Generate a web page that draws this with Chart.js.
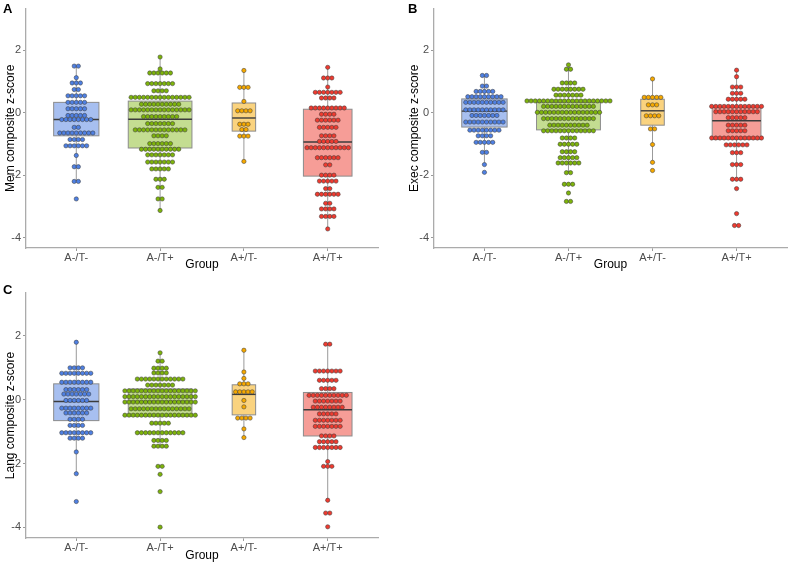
<!DOCTYPE html>
<html><head><meta charset="utf-8">
<script src="https://cdn.jsdelivr.net/npm/chart.js@4.4.1/dist/chart.umd.min.js"></script>
<style>
html,body{margin:0;padding:0;background:#fff;}
body{width:790px;height:565px;position:relative;overflow:hidden;font-family:"Liberation Sans",Arial,sans-serif;}
.pw{position:absolute;}
.pw canvas{display:block;}
.lbl{position:absolute;font:bold 13px "Liberation Sans",Arial,sans-serif;color:#000;line-height:13px;}
</style></head><body>
<div class="pw" style="left:0;top:0"><canvas id="cA" width="395" height="280"></canvas></div>
<div class="pw" style="left:404px;top:0"><canvas id="cB" width="386" height="280"></canvas></div>
<div class="pw" style="left:0;top:280px"><canvas id="cC" width="395" height="285"></canvas></div>
<div class="lbl" style="left:3px;top:2px">A</div>
<div class="lbl" style="left:408px;top:2px">B</div>
<div class="lbl" style="left:3px;top:283px">C</div>
<script>
// ---------------- DATA ----------------
const groups = ["A-/T-", "A-/T+", "A+/T-", "A+/T+"];
const yTicks = [-4, -2, 0, 2];

// Panel A: Mem composite z-score. Dot rows: bin centre values and dot counts per group
const memY = [
  [1.49, 1.12, 0.95, 0.74, 0.54, 0.33, 0.125, -0.09, -0.22, -0.47, -0.65, -0.86, -1.06, -1.37, -1.73, -2.2, -2.76],
  [1.78, 1.40, 1.27, 0.93, 0.70, 0.49, 0.27, 0.09, -0.125, -0.35, -0.55, -0.74, -0.99, -1.17, -1.35, -1.58, -1.80, -2.13, -2.39, -2.76, -3.13],
  [1.35, 0.81, 0.36, 0.06, -0.37, -0.54, -0.75, -1.56],
  [1.45, 1.11, 0.82, 0.65, 0.47, 0.15, -0.05, -0.24, -0.47, -0.74, -0.92, -1.12, -1.44, -1.67, -2.0, -2.19, -2.43, -2.61, -2.9, -3.08, -3.32, -3.72]
];
const memN = [
  [2, 1, 3, 2, 5, 5, 5, 5, 8, 2, 9, 4, 6, 1, 2, 2, 1],
  [1, 1, 6, 7, 4, 15, 10, 15, 9, 7, 13, 4, 6, 10, 7, 7, 5, 3, 2, 2, 1],
  [1, 3, 1, 4, 3, 2, 3, 1],
  [1, 3, 1, 7, 4, 9, 4, 6, 5, 4, 5, 11, 6, 2, 4, 5, 2, 6, 2, 4, 4, 1]
];
// box stats: [lower whisker, Q1, median, Q3, upper whisker]
const memBox = [
  [-2.2, -0.74, -0.22, 0.33, 1.49],
  [-3.13, -1.13, -0.21, 0.37, 1.78],
  [-1.56, -0.59, -0.17, 0.31, 1.35],
  [-3.72, -2.03, -0.94, 0.11, 1.45]
];

// Panel B: Exec composite z-score
const execY = [
  [1.19, 0.85, 0.68, 0.51, 0.33, 0.09, -0.09, -0.30, -0.56, -0.74, -0.95, -1.27, -1.66, -1.91],
  [1.53, 1.39, 0.95, 0.75, 0.56, 0.375, 0.20, 0.01, -0.19, -0.40, -0.58, -0.81, -1.01, -1.25, -1.44, -1.61, -1.92, -2.29, -2.57, -2.84],
  [1.08, 0.49, 0.25, -0.10, -0.52, -1.02, -1.59, -1.85],
  [1.36, 1.15, 0.82, 0.62, 0.43, 0.20, 0.03, -0.16, -0.40, -0.58, -0.81, -1.03, -1.28, -1.66, -2.13, -2.43, -3.23, -3.61]
];
const execN = [
  [2, 2, 5, 9, 10, 10, 7, 10, 8, 4, 5, 2, 1, 1],
  [1, 2, 4, 8, 7, 21, 13, 16, 13, 10, 13, 4, 5, 4, 5, 6, 2, 3, 1, 2],
  [1, 5, 3, 4, 2, 1, 1, 1],
  [1, 1, 3, 3, 5, 13, 11, 5, 5, 5, 13, 6, 3, 3, 3, 1, 1, 2]
];
const execBox = [
  [-1.66, -0.46, 0.05, 0.44, 1.19],
  [-1.92, -0.55, 0.01, 0.33, 1.53],
  [-1.59, -0.40, 0.06, 0.43, 1.08],
  [-2.13, -0.86, -0.26, 0.17, 1.36]
];

// Panel C: Lang composite z-score
const langY = [
  [1.79, 0.99, 0.82, 0.54, 0.31, 0.17, -0.03, -0.27, -0.42, -0.62, -0.81, -1.04, -1.21, -1.64, -2.32, -3.19],
  [1.46, 1.20, 0.98, 0.83, 0.64, 0.45, 0.27, 0.09, -0.08, -0.29, -0.49, -0.74, -1.04, -1.28, -1.46, -2.09, -2.34, -2.88, -3.99],
  [1.54, 0.86, 0.66, 0.49, 0.24, -0.03, -0.23, -0.58, -0.92, -1.19],
  [1.73, 0.89, 0.60, 0.34, 0.13, -0.05, -0.24, -0.45, -0.65, -0.84, -1.14, -1.32, -1.50, -1.94, -2.09, -3.15, -3.55, -3.98]
];
const langN = [
  [1, 4, 8, 8, 6, 7, 6, 8, 6, 4, 4, 8, 4, 1, 1, 1],
  [1, 2, 4, 4, 12, 7, 18, 18, 18, 15, 18, 5, 12, 4, 4, 2, 1, 1, 1],
  [1, 1, 1, 3, 5, 1, 1, 4, 1, 1],
  [2, 7, 5, 4, 10, 7, 8, 5, 7, 7, 4, 5, 7, 1, 3, 1, 2, 1]
];
const langBox = [
  [-2.32, -0.66, -0.06, 0.49, 1.79],
  [-1.46, -0.52, -0.06, 0.33, 1.46],
  [-1.19, -0.48, 0.16, 0.46, 1.54],
  [-3.15, -1.14, -0.32, 0.22, 1.73]
];

// ---------------- STYLE ----------------
const FONT = '"Liberation Sans", Arial, sans-serif';
const DOT_COLORS = ['#4f80e2', '#7db30c', '#f5a800', '#ee3b30'];
const BOX_FILLS = ['rgba(79,128,226,0.5)', 'rgba(125,179,12,0.45)', 'rgba(245,168,0,0.5)', 'rgba(238,59,48,0.5)'];
const BOX_W = [0.54, 0.76, 0.28, 0.58];   // in category units
const DOT_STEP = 0.0494;                   // horizontal dot spacing in category units

const boxPlugin = {
  id: 'boxes',
  beforeDatasetsDraw(chart, args, opts) {
    const {ctx} = chart;
    const x = chart.scales.x, y = chart.scales.y;
    opts.stats.forEach((s, i) => {
      const c = i + 1, hw = BOX_W[i] / 2;
      const xl = x.getPixelForValue(c - hw), xr = x.getPixelForValue(c + hw), xc = x.getPixelForValue(c);
      const [lo, q1, md, q3, hi] = s.map(v => y.getPixelForValue(v));
      ctx.save();
      ctx.strokeStyle = '#9a9a9a'; ctx.lineWidth = 1;
      ctx.beginPath();
      ctx.moveTo(xc, hi); ctx.lineTo(xc, q3);
      ctx.moveTo(xc, q1); ctx.lineTo(xc, lo);
      ctx.stroke();
      ctx.fillStyle = BOX_FILLS[i];
      ctx.fillRect(xl, q3, xr - xl, q1 - q3);
      ctx.strokeStyle = '#8c8c8c'; ctx.lineWidth = 1;
      ctx.strokeRect(xl, q3, xr - xl, q1 - q3);
      ctx.strokeStyle = '#3c3c3c'; ctx.lineWidth = 1.4;
      ctx.beginPath(); ctx.moveTo(xl, md); ctx.lineTo(xr, md); ctx.stroke();
      ctx.restore();
    });
  }
};

function dotData(levels, counts) {
  const pts = [];
  levels.forEach((lv, r) => {
    const n = counts[r];
    for (let j = 0; j < n; j++) pts.push({x: (j - (n - 1) / 2) * DOT_STEP, y: lv});
  });
  return pts;
}

function makeChart(id, Ys, Ns, boxes, yTitle, L) {
  const datasets = groups.map((g, i) => ({
    label: g,
    data: dotData(Ys[i], Ns[i]).map(p => ({x: p.x + i + 1, y: p.y})),
    backgroundColor: DOT_COLORS[i],
    borderColor: 'rgba(55,55,55,0.85)',
    borderWidth: 0.6,
    pointRadius: 2.15,
    pointHoverRadius: 2.15
  }));
  return new Chart(document.getElementById(id), {
    type: 'scatter',
    data: {datasets},
    plugins: [boxPlugin],
    options: {
      responsive: false, animation: false, events: [],
      layout: {padding: {left: 0, right: L.padR, top: L.padT, bottom: 0}},
      plugins: {legend: {display: false}, tooltip: {enabled: false}, boxes: {stats: boxes}},
      scales: {
        x: {
          type: 'linear', min: 0.4, max: 4.6,
          afterBuildTicks: s => { s.ticks = groups.map((g, i) => ({value: i + 1})); },
          ticks: {callback: (v, idx) => groups[idx], font: {size: 11, family: FONT}, color: '#4d4d4d', padding: 0, autoSkip: false, maxRotation: 0},
          grid: {display: true, drawOnChartArea: false, drawTicks: true, tickLength: 3, color: '#9a9a9a', tickWidth: 1},
          border: {display: true, color: '#ababab', width: 1.3},
          title: {display: true, text: 'Group', font: {size: 12, family: FONT}, color: '#000', padding: {top: 0, bottom: L.titleB}},
          afterFit: s => { s.height = L.xh; }
        },
        y: {
          type: 'linear', min: -4.33, max: 3.33,
          afterBuildTicks: s => { s.ticks = yTicks.map(v => ({value: v})); },
          ticks: {font: {size: 11, family: FONT}, color: '#4d4d4d', padding: 2},
          grid: {display: true, drawOnChartArea: false, drawTicks: true, tickLength: 3, color: '#9a9a9a', tickWidth: 1},
          border: {display: true, color: '#ababab', width: 1.3},
          title: {display: true, text: yTitle, font: {size: 12, family: FONT}, color: '#000', padding: {top: L.yTitleT, bottom: 0}},
          afterFit: s => { s.width = L.yw; }
        }
      }
    }
  });
}

makeChart('cA', memY, memN, memBox, 'Mem composite z-score', {padR: 17, padT: 3, xh: 32, titleB: 8, yw: 26, yTitleT: 3});
makeChart('cB', execY, execN, execBox, 'Exec composite z-score', {padR: 3, padT: 3, xh: 32, titleB: 8, yw: 30, yTitleT: 3});
makeChart('cC', langY, langN, langBox, 'Lang composite z-score', {padR: 17, padT: 13, xh: 27, titleB: 2, yw: 26, yTitleT: 3});
</script>
</body></html>
